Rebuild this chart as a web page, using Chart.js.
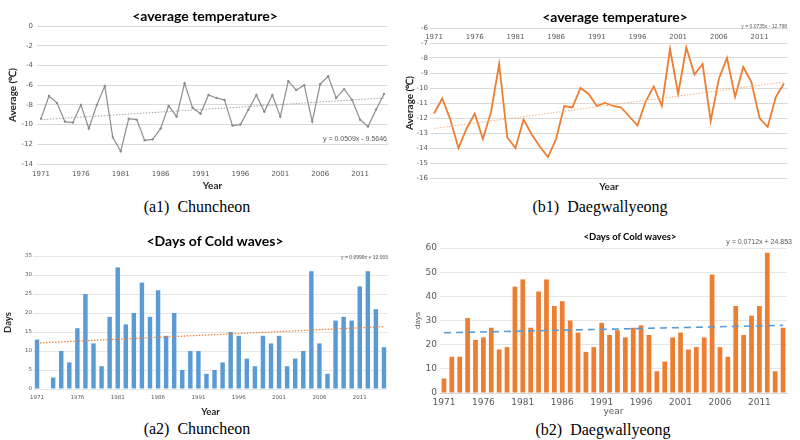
<!DOCTYPE html>
<html>
<head>
<meta charset="utf-8">
<script src="https://cdn.jsdelivr.net/npm/chart.js@4.4.1/dist/chart.umd.min.js"></script>
<style>
  html, body { margin:0; padding:0; background:#fff; }
  #wrap { position:relative; width:800px; height:440px; overflow:hidden; background:#fff; }
  canvas { position:absolute; }
  .t { position:absolute; white-space:pre; transform:translate(-50%,-50%); line-height:1; }
  .ttl { font-family: Lato, "Liberation Sans", sans-serif; font-weight:bold; color:#000; }
  .cap { font-family: "Liberation Serif", serif; font-size:16px; color:#000; }
  .eq { font-family: "Liberation Sans", sans-serif; color:#595959; transform:translate(-100%,-50%); }
</style>
</head>
<body>
<div id="wrap">
  <canvas id="a1" width="400" height="196" style="left:0;top:0"></canvas>
  <canvas id="b1" width="400" height="196" style="left:400px;top:0"></canvas>
  <canvas id="a2" width="400" height="195" style="left:0;top:225px"></canvas>
  <canvas id="b2" width="400" height="195" style="left:400px;top:225px"></canvas>

  <div class="t ttl" style="left:205px;top:16px;font-size:14px">&lt;average temperature&gt;</div>
  <div class="t ttl" style="left:615px;top:17px;font-size:14px">&lt;average temperature&gt;</div>
  <div class="t ttl" style="left:215px;top:241px;font-size:14px">&lt;Days of Cold waves&gt;</div>
  <div class="t ttl" style="left:630px;top:237px;font-size:9.5px">&lt;Days of Cold waves&gt;</div>

  <div class="t eq" style="left:387px;top:138px;font-size:7px">y = 0.0509x - 9.5646</div>
  <div class="t eq" style="left:787px;top:26px;font-size:5px">y = 0.0735x - 12.798</div>
  <div class="t eq" style="left:388px;top:257px;font-size:5px">y = 0.0999x + 12.003</div>
  <div class="t eq" style="left:792px;top:241px;font-size:7px">y = 0.0712x + 24.853</div>

  <div class="t cap" style="left:197px;top:207px">(a1)  Chuncheon</div>
  <div class="t cap" style="left:600px;top:207px">(b1)  Daegwallyeong</div>
  <div class="t cap" style="left:197px;top:429px">(a2)  Chuncheon</div>
  <div class="t cap" style="left:603px;top:430px">(b2)  Daegwallyeong</div>
</div>
<script>
// ---- categories ----
const years = ['1971','1972','1973','1974','1975','1976','1977','1978','1979','1980',
               '1981','1982','1983','1984','1985','1986','1987','1988','1989','1990',
               '1991','1992','1993','1994','1995','1996','1997','1998','1999','2000',
               '2001','2002','2003','2004','2005','2006','2007','2008','2009','2010',
               '2011','2012','2013','2014'];
const tickYears = ['1971','1976','1981','1986','1991','1996','2001','2006','2011'];

// ---- series values ----
const chuncheonTemp = [-9.4,-7.1,-7.8,-9.7,-9.8,-8.0,-10.4,-8.0,-6.1,-11.3,
                       -12.7,-9.4,-9.5,-11.6,-11.5,-10.4,-8.1,-9.2,-5.8,-8.3,
                       -8.9,-7.0,-7.3,-7.5,-10.1,-10.0,-8.5,-7.0,-8.7,-7.0,
                       -9.2,-5.6,-6.5,-6.0,-9.7,-5.9,-5.1,-7.3,-6.4,-7.5,
                       -9.5,-10.2,-8.5,-6.9];
const daegwallyeongTemp = [-11.7,-10.7,-12.1,-14.0,-12.7,-11.7,-13.4,-11.6,-8.4,-13.3,
                           -14.0,-12.1,-13.1,-13.9,-14.6,-13.4,-11.2,-11.3,-10.0,-10.4,
                           -11.2,-11.0,-11.2,-11.3,-11.9,-12.5,-10.9,-9.9,-11.2,-7.4,
                           -10.4,-7.3,-9.1,-8.4,-12.2,-9.4,-8.0,-10.6,-8.6,-9.6,
                           -12.0,-12.6,-10.6,-9.7];
const chuncheonCold = [13,0,3,10,7,16,25,12,6,19,
                       32,17,20,28,19,26,14,20,5,10,
                       10,4,5,7,15,14,8,6,14,12,
                       14,6,8,10,31,12,4,18,19,18,
                       27,31,21,11];
const daegwallyeongCold = [6,15,15,31,22,23,27,18,19,44,
                           47,27,42,47,36,38,30,25,17,19,
                           29,24,26,23,27,28,24,9,13,23,
                           25,18,19,23,49,19,15,36,24,32,
                           36,58,9,27];

// trendline end values (first year, last year)
const trendA1 = [-9.5, -7.3];
const trendB1 = [-12.7, -9.6];
const trendA2 = [12.1, 16.4];
const trendB2 = [24.9, 28.0];

// ---- helpers ----
const first = years[0], last = years[years.length - 1];
function trendData(t) { return [{x: first, y: t[0]}, {x: last, y: t[1]}]; }
function yearTick(v) { const l = years[v]; return tickYears.includes(l) ? l : ''; }
const noPlugins = { legend: {display:false}, tooltip: {enabled:false}, title: {display:false} };
const gridCol = '#d9d9d9';

// lets the top year labels of (b1) sit just inside the plot, under the top line
const unclipTopLabels = {
  id: 'unclipTopLabels',
  beforeDraw(chart) { const s = chart.scales.x; if (s) s._computeLabelArea = () => undefined; }
};

// ---- (a1) Chuncheon temperature ----
new Chart(document.getElementById('a1'), {
  type: 'line',
  data: { labels: years, datasets: [
    { data: chuncheonTemp, borderColor:'#8c8c8c', borderWidth:1.2, pointRadius:1.2,
      pointBackgroundColor:'#8c8c8c', pointBorderWidth:0, tension:0, order:1 },
    { data: trendData(trendA1), borderColor:'#a6a6a6', borderWidth:1, borderDash:[1.5,1.5],
      pointRadius:0, order:0 }
  ]},
  options: {
    responsive:false, animation:false, devicePixelRatio:1,
    layout: { padding: { top:26, right:12, left:0, bottom:0 } },
    plugins: noPlugins,
    scales: {
      x: { offset:true, grid:{display:false, drawTicks:false}, border:{display:false},
           ticks:{ autoSkip:false, maxRotation:0, padding:6, color:'#595959',
                   font:{family:'DejaVu Sans', size:7}, callback: yearTick },
           title:{ display:true, text:'Year', color:'#262626', padding:{top:0,bottom:4},
                   font:{family:'Lato', size:10, weight:'bold'} },
           afterFit(s){ s.height = 32; } },
      y: { min:-14, max:0, ticks:{ stepSize:2, padding:4, color:'#595959',
                   font:{family:'DejaVu Sans', size:7} },
           grid:{ color:gridCol, drawTicks:false }, border:{display:false},
           title:{ display:true, text:'Average (℃)', color:'#262626', padding:{top:7,bottom:0},
                   font:{family:'Lato', size:10, weight:'bold'} },
           afterFit(s){ s.width = 37; } }
    }
  }
});

// ---- (b1) Daegwallyeong temperature ----
new Chart(document.getElementById('b1'), {
  type: 'line',
  data: { labels: years, datasets: [
    { data: daegwallyeongTemp, borderColor:'#ed7d31', borderWidth:1.8, pointRadius:0,
      tension:0, order:1, xAxisID:'x' },
    { data: trendData(trendB1), borderColor:'#f4b183', borderWidth:1, borderDash:[1.5,1.5],
      pointRadius:0, order:0, xAxisID:'x' }
  ]},
  plugins: [unclipTopLabels],
  options: {
    responsive:false, animation:false, devicePixelRatio:1,
    layout: { padding: { top:0, right:12, left:0, bottom:0 } },
    plugins: noPlugins,
    scales: {
      x: { position:'top', offset:true, grid:{display:false, drawTicks:false}, border:{display:false},
           ticks:{ autoSkip:false, maxRotation:0, padding:-13, color:'#595959',
                   font:{family:'DejaVu Sans', size:7}, callback: yearTick },
           afterFit(s){ s.height = 28; } },
      xb: { type:'category', position:'bottom', labels: years,
            grid:{display:false, drawTicks:false}, border:{display:false},
            ticks:{display:false},
            title:{ display:true, text:'Year', color:'#262626', padding:{top:0,bottom:3},
                    font:{family:'Lato', size:10, weight:'bold'} },
            afterFit(s){ s.height = 18; } },
      y: { min:-16, max:-6, ticks:{ stepSize:1, padding:2, color:'#595959',
                   font:{family:'DejaVu Sans', size:7} },
           grid:{ color:gridCol, drawTicks:false }, border:{display:false},
           title:{ display:true, text:'Average (℃)', color:'#262626', padding:{top:4,bottom:0},
                   font:{family:'Lato', size:10, weight:'bold'} },
           afterFit(s){ s.width = 30; } }
    }
  }
});

// ---- (a2) Chuncheon cold-wave days ----
new Chart(document.getElementById('a2'), {
  type: 'bar',
  data: { labels: years, datasets: [
    { data: chuncheonCold, backgroundColor:'#5b9bd5', barPercentage:0.55, categoryPercentage:1, order:1 },
    { type:'line', data: trendData(trendA2), borderColor:'#ed7d31', borderWidth:1.2,
      borderDash:[1.5,1.5], pointRadius:0, order:0 }
  ]},
  options: {
    responsive:false, animation:false, devicePixelRatio:1,
    layout: { padding: { top:31, right:12, left:0, bottom:0 } },
    plugins: noPlugins,
    scales: {
      x: { offset:true, grid:{display:false, drawTicks:false}, border:{display:false},
           ticks:{ autoSkip:false, maxRotation:0, padding:5.5, color:'#595959',
                   font:{family:'DejaVu Sans', size:5.5}, callback: yearTick },
           title:{ display:true, text:'Year', color:'#262626', padding:{top:0,bottom:2.5},
                   font:{family:'Lato', size:9.5, weight:'bold'} },
           afterFit(s){ s.height = 31; } },
      y: { min:0, max:35, ticks:{ stepSize:5, padding:1, color:'#595959',
                   font:{family:'DejaVu Sans', size:5.5} },
           grid:{ color:'#e6e6e6', drawTicks:false }, border:{display:false},
           title:{ display:true, text:'Days', color:'#262626', padding:{top:2,bottom:0},
                   font:{family:'Lato', size:9.5, weight:'bold'} },
           afterFit(s){ s.width = 33; } }
    }
  }
});

// ---- (b2) Daegwallyeong cold-wave days ----
new Chart(document.getElementById('b2'), {
  type: 'bar',
  data: { labels: years, datasets: [
    { data: daegwallyeongCold, backgroundColor:'#ed7d31', barPercentage:0.6, categoryPercentage:1, order:1 },
    { type:'line', data: trendData(trendB2), borderColor:'#5b9bd5', borderWidth:1.6,
      borderDash:[7,5], pointRadius:0, order:0 }
  ]},
  options: {
    responsive:false, animation:false, devicePixelRatio:1,
    layout: { padding: { top:23, right:13, left:0, bottom:0 } },
    plugins: noPlugins,
    scales: {
      x: { offset:true, grid:{display:false, drawTicks:false}, border:{display:true, color:'#d9d9d9'},
           ticks:{ autoSkip:false, maxRotation:0, padding:4.5, color:'#595959',
                   font:{family:'DejaVu Sans', size:9}, callback: yearTick },
           title:{ display:true, text:'year', color:'#595959', padding:{top:0,bottom:2.5},
                   font:{family:'DejaVu Sans', size:9} },
           afterFit(s){ s.height = 27; } },
      y: { min:0, max:60, ticks:{ stepSize:10, padding:3, color:'#595959',
                   font:{family:'DejaVu Sans', size:9} },
           grid:{ color:'#e6e6e6', drawTicks:false }, border:{display:false},
           title:{ display:true, text:'days', color:'#595959', padding:{top:13,bottom:0},
                   font:{family:'Liberation Sans Narrow, Liberation Sans', size:8} },
           afterFit(s){ s.width = 40; } }
    }
  }
});
</script>
</body>
</html>
